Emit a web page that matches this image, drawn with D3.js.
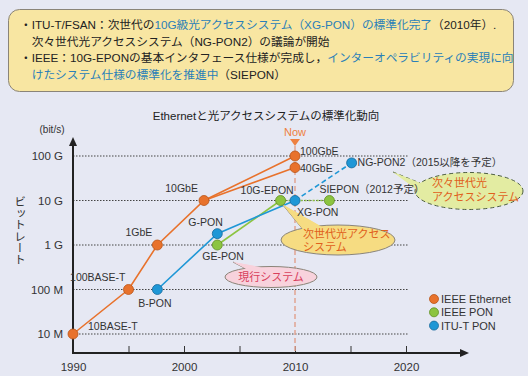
<!DOCTYPE html>
<html>
<head>
<meta charset="utf-8">
<script src="https://cdn.jsdelivr.net/npm/d3@7"></script>
<style>
  body { margin: 0; background: #e6e8f3; }
  svg { display: block; font-family: "Liberation Sans", "Noto Sans CJK JP", sans-serif; }
</style>
</head>
<body>
<script>
const w = 528;
const h = 376;

// data
const yTickValues = [1e7, 1e8, 1e9, 1e10, 1e11];
const yTickLabels = ["10 M", "100 M", "1 G", "10 G", "100 G"];
const xTickValues = [1990, 1995, 2000, 2005, 2010, 2015, 2020];
const xTickLabels = ["1990", "", "2000", "", "2010", "", "2020"];

const ethNames = ["10BASE-T", "100BASE-T", "1GbE", "10GbE", "40GbE", "100GbE"];
const ethYears = [1990, 1995, 1997.6, 2001.8, 2010, 2010];
const ethRates = [1e7, 1e8, 1e9, 1e10, 5.5e10, 1e11];

const epNames = ["GE-PON", "10G-EPON", "SIEPON（2012予定）"];
const epYears = [2003, 2008.7, 2013.1];
const epRates = [1e9, 1e10, 1e10];

const ituNames = ["B-PON", "G-PON", "XG-PON", "NG-PON2（2015以降を予定）"];
const ituYears = [1997.6, 2003, 2010, 2015.1];
const ituRates = [1e8, 1.8e9, 1e10, 7e10];

const legendNames = ["IEEE Ethernet", "IEEE PON", "ITU-T PON"];
const colors = ["#e8722c", "#8cc440", "#1f97d6"];
const strokes = ["#b85418", "#5f8f22", "#15689a"];

let svg = d3.select("body")
            .append("svg")
            .attr("width", w)
            .attr("height", h);

// top box
svg.append("rect")
   .attr("x", 8.5).attr("y", 9.5)
   .attr("width", 505).attr("height", 82)
   .attr("rx", 11)
   .attr("fill", "#f8e6a2")
   .attr("stroke", "#8a8478")
   .attr("stroke-width", 1);

const boxLines = [
  [["・ITU-T/FSAN：次世代の", "#222"], ["10G級光アクセスシステム（XG-PON）の標準化完了", "#2a7fb8"], ["（2010年）.", "#222"]],
  [["　次々世代光アクセスシステム（NG-PON2）の議論が開始", "#222"]],
  [["・IEEE：10G-EPONの基本インタフェース仕様が完成し，", "#222"], ["インターオペラビリティの実現に向", "#2a7fb8"]],
  [["　", "#222"], ["けたシステム仕様の標準化を推進中", "#2a7fb8"], ["（SIEPON）", "#222"]]
];
boxLines.forEach((line, i) => {
  let t = svg.append("text")
     .attr("x", 20).attr("y", 29 + i * 16.7)
     .attr("font-size", 11.7);
  line.forEach(p => t.append("tspan").attr("fill", p[1]).text(p[0]));
});

// scales
let x = d3.scaleLinear().domain([1990, 2020]).range([73, 406]);
let y = d3.scaleLog().domain([1e7, 1e11]).range([334, 156]);

// title
svg.append("text")
   .attr("x", 266).attr("y", 120)
   .attr("text-anchor", "middle")
   .attr("font-size", 11.5)
   .attr("fill", "#222")
   .text("Ethernetと光アクセスシステムの標準化動向");

svg.append("text")
   .attr("x", 52).attr("y", 133)
   .attr("text-anchor", "middle")
   .attr("font-size", 10)
   .attr("fill", "#333")
   .text("(bit/s)");

// y axis title, vertical
svg.append("text")
   .attr("x", 20).attr("y", 196)
   .attr("writing-mode", "vertical-rl")
   .attr("font-family", "Noto Sans CJK JP, sans-serif")
   .attr("font-size", 11.5)
   .attr("letter-spacing", 0)
   .attr("fill", "#333")
   .text("ビットレート");

// grid
svg.selectAll("line.grid")
   .data(yTickValues)
   .enter()
   .append("line")
   .attr("class", "grid")
   .attr("x1", x(1990)).attr("x2", 408)
   .attr("y1", d => y(d)).attr("y2", d => y(d))
   .attr("stroke", "#444")
   .attr("stroke-width", 1.1)
   .attr("stroke-dasharray", "1.5,1.5");

// y tick labels
svg.append("g")
   .attr("transform", "translate(" + x(1990) + ",0)")
   .call(d3.axisLeft(y).tickValues(yTickValues).tickSize(0).tickPadding(10)
           .tickFormat((d, i) => yTickLabels[i]))
   .call(g => g.select(".domain").remove())
   .call(g => g.selectAll("text").attr("font-size", 11.5).attr("fill", "#333")
              .attr("font-family", "Liberation Sans, sans-serif"));

// x axis
const axisY = 353;
svg.append("g")
   .attr("transform", "translate(0," + axisY + ")")
   .call(d3.axisBottom(x).tickValues(xTickValues).tickSize(-7).tickPadding(10)
           .tickFormat((d, i) => xTickLabels[i]))
   .call(g => g.select(".domain").remove())
   .call(g => g.selectAll("line").attr("stroke", "#333").attr("stroke-width", 1))
   .call(g => g.selectAll("text").attr("font-size", 11.5).attr("fill", "#333")
              .attr("font-family", "Liberation Sans, sans-serif"));

// now line
svg.append("line")
   .attr("x1", x(2010)).attr("x2", x(2010))
   .attr("y1", 146).attr("y2", axisY)
   .attr("stroke", "#e2a898")
   .attr("stroke-width", 1.6)
   .attr("stroke-dasharray", "5,3");

svg.append("text")
   .attr("x", x(2010)).attr("y", 136)
   .attr("text-anchor", "middle")
   .attr("font-size", 11)
   .attr("fill", "#ee8040")
   .text("Now");
svg.append("path")
   .attr("d", d3.line()([[x(2010) - 5, 139], [x(2010) + 5, 139], [x(2010), 146]]))
   .attr("fill", "#ee8040");

// axes lines with arrows
svg.append("line")
   .attr("x1", x(1990)).attr("x2", x(1990))
   .attr("y1", axisY + 1).attr("y2", 144)
   .attr("stroke", "#222").attr("stroke-width", 2);
svg.append("path")
   .attr("d", d3.line()([[x(1990) - 4, 146], [x(1990) + 4, 146], [x(1990), 137]]))
   .attr("fill", "#222");
svg.append("line")
   .attr("x1", x(1990) - 1).attr("x2", 462)
   .attr("y1", axisY).attr("y2", axisY)
   .attr("stroke", "#222").attr("stroke-width", 2);
svg.append("path")
   .attr("d", d3.line()([[460, axisY - 4], [460, axisY + 4], [469, axisY]]))
   .attr("fill", "#222");

// callouts
function bubble(cx, cy, rx, ry, tail, fill, stroke, dash) {
  let g = svg.append("g");
  g.append("path").attr("d", d3.line()(tail))
   .attr("fill", fill).attr("stroke", stroke).attr("stroke-width", 1)
   .attr("stroke-dasharray", dash);
  g.append("ellipse").attr("cx", cx).attr("cy", cy).attr("rx", rx).attr("ry", ry)
   .attr("fill", fill).attr("stroke", stroke).attr("stroke-width", 1)
   .attr("stroke-dasharray", dash);
  g.append("path").attr("d", d3.line()(tail))
   .attr("fill", fill);
  return g;
}

// series lines
const lineGen = d3.line().x(d => x(d[0])).y(d => y(d[1]));
const ethPts = ethYears.map((d, i) => [d, ethRates[i]]);
const epPts = epYears.map((d, i) => [d, epRates[i]]);
const ituPts = ituYears.map((d, i) => [d, ituRates[i]]);

function drawLine(pts, c, dash) {
  svg.append("path")
     .attr("d", lineGen(pts))
     .attr("fill", "none")
     .attr("stroke", c)
     .attr("stroke-width", 1.6)
     .attr("stroke-dasharray", dash);
}
drawLine([ethPts[0], ethPts[1], ethPts[2], ethPts[3], ethPts[5]], colors[0], null);
drawLine([ethPts[3], ethPts[4]], colors[0], null);
drawLine([epPts[0], epPts[1]], colors[1], null);
drawLine([epPts[1], epPts[2]], colors[1], "2,2");
drawLine([ituPts[0], ituPts[1], ituPts[2]], colors[2], null);
drawLine([ituPts[2], ituPts[3]], colors[2], "5,3");

// bubbles (anchored to data points)
let b1 = bubble(338, 240, 57, 15,
  [[x(2008.7) + 2, y(1e10) + 4], [305, 232], [322, 227]],
  "#f6dc82", "#8a8478", null);
b1.append("text").attr("x", 303).attr("y", 238).attr("font-size", 11).attr("fill", "#e0601c").text("次世代光アクセス");
b1.append("text").attr("x", 303).attr("y", 251).attr("font-size", 11).attr("fill", "#e0601c").text("システム");

let b2 = bubble(271, 277, 46, 10.5,
  [[233, 262], [248, 270], [262, 267.5]],
  "#f8d2dc", "#8a8478", null);
b2.append("text").attr("x", 271).attr("y", 281).attr("text-anchor", "middle")
  .attr("font-size", 11).attr("fill", "#d8405c").text("現行システム");

let b3 = bubble(469, 191, 54, 18.5,
  [[393, 172], [420, 183], [424, 195]],
  "#e3eca2", "#4d5e40", "4,3");
b3.append("text").attr("x", 432).attr("y", 187).attr("font-size", 11).attr("fill", "#e0601c").text("次々世代光");
b3.append("text").attr("x", 432).attr("y", 201).attr("font-size", 11).attr("fill", "#e0601c").text("アクセスシステム");

// points
function drawPoints(pts, k) {
  svg.selectAll("circle.s" + k)
     .data(pts)
     .enter()
     .append("circle")
     .attr("class", "s" + k)
     .attr("cx", d => x(d[0]))
     .attr("cy", d => y(d[1]))
     .attr("r", 5)
     .attr("fill", colors[k])
     .attr("stroke", strokes[k])
     .attr("stroke-width", 0.8);
}
drawPoints(ethPts, 0);
drawPoints(epPts, 1);
drawPoints(ituPts, 2);

// point labels: [dx, dy, anchor]
const ethOff = [[15, -4, "start"], [-3, -9, "end"], [-5, -9, "end"], [-6, -9, "end"], [5, 4, "start"], [5, -1, "start"]];
const epOff = [[-15, 15, "start"], [-40, -7, "start"], [-10, -8, "start"]];
const ituOff = [[-19, 17, "start"], [-29, -8, "start"], [2, 15, "start"], [6, 3, "start"]];

function drawLabels(pts, names, off) {
  pts.forEach((d, i) => {
    svg.append("text")
       .attr("x", x(d[0]) + off[i][0])
       .attr("y", y(d[1]) + off[i][1])
       .attr("text-anchor", off[i][2])
       .attr("font-size", 10.5)
       .attr("fill", "#333")
       .text(names[i]);
  });
}
drawLabels(ethPts, ethNames, ethOff);
drawLabels(epPts, epNames, epOff);
drawLabels(ituPts, ituNames, ituOff);

// legend
legendNames.forEach((n, i) => {
  svg.append("circle")
     .attr("cx", 434).attr("cy", 299 + i * 13.3)
     .attr("r", 4.5)
     .attr("fill", colors[i])
     .attr("stroke", strokes[i]).attr("stroke-width", 0.8);
  svg.append("text")
     .attr("x", 441).attr("y", 303 + i * 13.3)
     .attr("font-size", 11)
     .attr("fill", "#333")
     .text(n);
});
</script>
</body>
</html>
